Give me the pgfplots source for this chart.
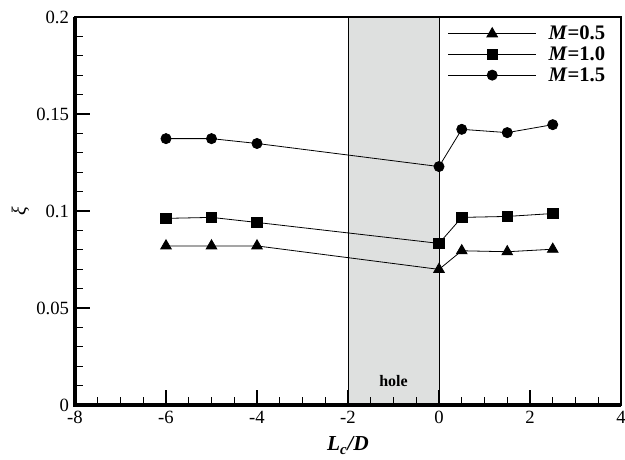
\documentclass[border=0pt]{standalone}
\usepackage{fontspec}
\setmainfont{Liberation Serif}
\usepackage{pgfplots}
\pgfplotsset{compat=1.18}
\definecolor{holegray}{RGB}{222,224,223}
\begin{document}
\begin{tikzpicture}
\begin{axis}[
  scale only axis,
  width=409.5pt, height=291pt,
  xmin=-8, xmax=4, ymin=0, ymax=0.2,
  xtick={-8,-6,...,4}, ytick={0,0.05,0.1,0.15,0.2},
  yticklabels={0,0.05,0.1,0.15,0.2},
  minor x tick num=3, minor y tick num=4,
  xtick pos=bottom, ytick pos=left,
  tick align=inside,
  major tick length=11pt, minor tick length=6pt,
  every major tick/.style={line width=1.4pt, black},
  every minor tick/.style={line width=0.6pt, black},
  axis line style={line width=1.4pt},
  /pgf/number format/assume math mode=true,
  ticklabel style={font=\fontsize{14}{16}\selectfont},
  xticklabel style={yshift=-1pt},
  yticklabel style={xshift=-1pt},
  xlabel={\textbf{\textit{L}\textsubscript{\textit{c}}\textit{/D}}},
  xlabel style={font=\fontsize{16}{18}\selectfont, at={(axis description cs:0.5,-0.105)}, anchor=center},
  ylabel={\textit{ξ}},
  ylabel style={font=\fontsize{15}{17}\selectfont, at={(axis description cs:-0.1,0.5)}, anchor=center, rotate=0},
  axis on top,
  clip=false,
  legend style={draw=none, fill=none, at={(0.675,0.99)}, anchor=north west,
    font=\fontsize{15.5}{17}\selectfont\bfseries, row sep=0.5pt,
    nodes={text height=11pt, text depth=2pt, inner ysep=1pt}},
  legend cell align=left,
  legend image code/.code={%
    \draw[mark repeat=2,mark phase=2,#1] plot coordinates {(0pt,0pt) (33pt,0pt) (66pt,0pt)};},
]
\addplot[fill=holegray, draw=black, line width=0.6pt, forget plot] coordinates {(-2,0) (-2,0.2) (0,0.2) (0,0)};
\node[font=\fontsize{12}{14}\selectfont\bfseries] at (axis cs:-1,0.0125) {hole};
\addplot[black, line width=0.6pt, mark=triangle*, mark size=4.6pt, mark options={solid}] coordinates {
(-6,0.0820) (-5,0.0820) (-4,0.0820) (0,0.0699) (0.5,0.0795) (1.5,0.0790) (2.5,0.0803)};
\addlegendentry{\hspace*{7pt}\textit{M}=0.5}
\addplot[black, line width=0.6pt, mark=square*, mark size=3.9pt] coordinates {
(-6,0.0962) (-5,0.0967) (-4,0.0941) (0,0.0833) (0.5,0.0967) (1.5,0.0972) (2.5,0.0987)};
\addlegendentry{\hspace*{7pt}\textit{M}=1.0}
\addplot[black, line width=0.6pt, mark=*, mark size=3.8pt] coordinates {
(-6,0.1373) (-5,0.1373) (-4,0.1348) (0,0.1229) (0.5,0.1421) (1.5,0.1404) (2.5,0.1445)};
\addlegendentry{\hspace*{7pt}\textit{M}=1.5}
\draw[line width=2.4pt] (rel axis cs:0,1) -- (rel axis cs:0,0) -- (rel axis cs:1,0);
\coordinate (bl) at (rel axis cs:0,0);
\end{axis}
\pgfresetboundingbox
\path[use as bounding box] ([shift={(-56.25pt,-41.25pt)}]bl) rectangle ++(468.75pt,345pt);
\end{tikzpicture}
\end{document}
